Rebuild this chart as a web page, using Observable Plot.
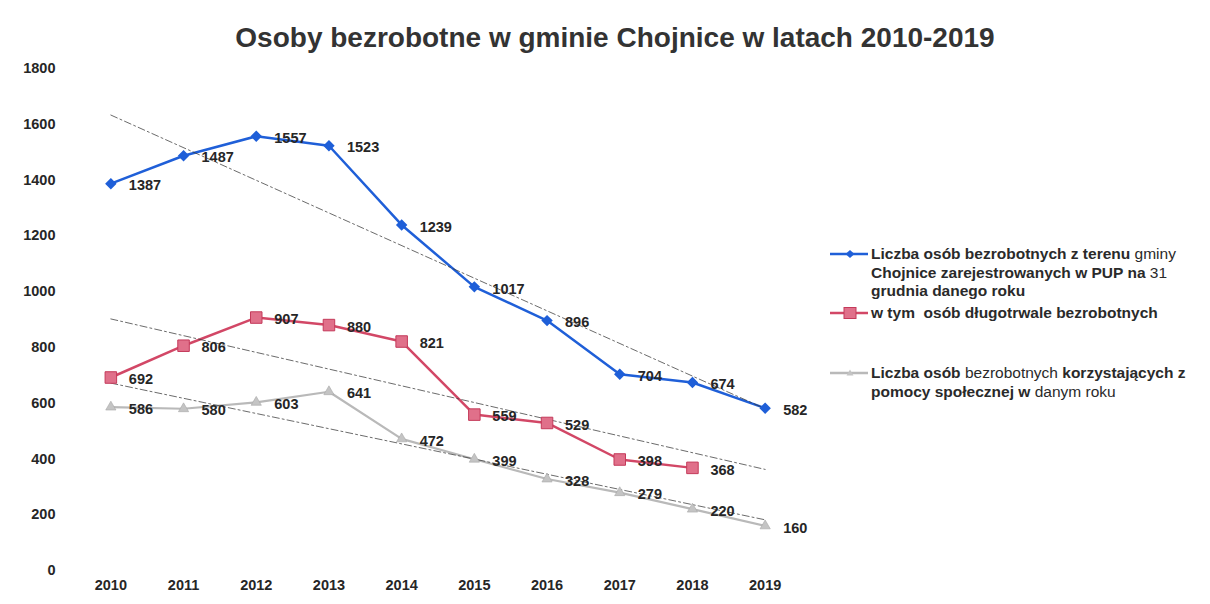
<!DOCTYPE html>
<html>
<head>
<meta charset="utf-8">
<script src="https://cdn.jsdelivr.net/npm/d3@7"></script>
<script src="https://cdn.jsdelivr.net/npm/@observablehq/plot@0.6"></script>
<style>
  body { margin:0; background:#fff; font-family:"Liberation Sans", Arial, sans-serif; width:1210px; height:604px; overflow:hidden; position:relative; }
  #title { position:absolute; left:0; top:22px; width:1230px; text-align:center; font-size:28px; line-height:32px; font-weight:bold; color:#333; }
  #chart { position:absolute; left:0; top:60px; }
  #legend { position:absolute; left:830px; top:245px; font-size:15.5px; line-height:18.5px; color:#2a2a2a; white-space:nowrap; }
  .row { position:relative; padding-left:41px; }
  .row svg { position:absolute; left:0; top:3px; }
  b { font-weight:bold; }
  .n { font-weight:normal; }
</style>
</head>
<body>
<div id="title">Osoby bezrobotne w gminie Chojnice w latach 2010-2019</div>
<div id="chart"></div>
<div id="legend"></div>
<script>
const years = [2010, 2011, 2012, 2013, 2014, 2015, 2016, 2017, 2018, 2019];
const registered = [1387, 1487, 1557, 1523, 1239, 1017, 896, 704, 674, 582];
const longTerm = [692, 806, 907, 880, 821, 559, 529, 398, 368, null];
const welfare = [586, 580, 603, 641, 472, 399, 328, 279, 220, 160];
const yTicks = [0, 200, 400, 600, 800, 1000, 1200, 1400, 1600, 1800];
const seriesNames = [
  "Liczba osób bezrobotnych z terenu gminy Chojnice zarejestrowanych w PUP na 31 grudnia danego roku",
  "w tym  osób długotrwale bezrobotnych",
  "Liczba osób bezrobotnych korzystających z pomocy społecznej w danym roku"
];
const colors = ["#1f5fd8", "#d24766", "#b9b9b9"];

function toRows(vals) {
  return years.map((x, i) => ({x, y: vals[i]})).filter(d => d.y != null);
}
// least-squares linear trend over the defined points, drawn across all years
function trend(vals) {
  const pts = toRows(vals);
  const mx = d3.mean(pts, d => d.x), my = d3.mean(pts, d => d.y);
  const sxy = d3.sum(pts, d => (d.x - mx) * (d.y - my));
  const sxx = d3.sum(pts, d => (d.x - mx) ** 2);
  const b = sxy / sxx, a = my - b * mx;
  return [years[0], years[years.length - 1]].map(x => ({x, y: a + b * x}));
}

const reg = toRows(registered), lt = toRows(longTerm), wf = toRows(welfare);
const trendStyle = {x: "x", y: "y", stroke: "#3a3a3a", strokeWidth: 1, strokeDasharray: "7 3 2 3", strokeOpacity: 0.75};
const labelStyle = {x: "x", y: "y", text: d => String(d.y), dx: 18, dy: 2, textAnchor: "start", fontSize: 14.5, fontWeight: "bold", fill: "#262626"};

const chart = Plot.plot({
  width: 820,
  height: 544,
  marginLeft: 74,
  marginRight: 19,
  marginTop: 8,
  marginBottom: 34,
  style: {fontFamily: "'Liberation Sans', Arial, sans-serif", fontSize: "14.5px", fontWeight: "bold", color: "#262626", background: "transparent"},
  x: {domain: [2009.5, 2019.5], ticks: years, tickFormat: d3.format("d"), tickSize: 0, tickPadding: 9, label: null, line: false},
  y: {domain: [0, 1800], ticks: yTicks, tickFormat: d3.format("d"), tickSize: 0, tickPadding: 19, label: null},
  marks: [
    Plot.line(wf, {x: "x", y: "y", stroke: colors[2], strokeWidth: 2.2}),
    Plot.line(lt, {x: "x", y: "y", stroke: colors[1], strokeWidth: 2.5}),
    Plot.line(reg, {x: "x", y: "y", stroke: colors[0], strokeWidth: 2.5}),
    Plot.line(trend(registered), trendStyle),
    Plot.line(trend(longTerm), trendStyle),
    Plot.line(trend(welfare), trendStyle),
    Plot.dot(wf, {x: "x", y: "y", symbol: "triangle", r: 3.8, fill: "#c4c4c4", stroke: "#a8a8a8", strokeWidth: 0.6}),
    Plot.dot(lt, {x: "x", y: "y", symbol: "square", r: 6.5, fill: "#e0708a", stroke: "#c43a5a", strokeWidth: 1}),
    Plot.dot(reg, {x: "x", y: "y", symbol: "diamond2", r: 4.2, fill: colors[0], stroke: colors[0]}),
    Plot.text(reg, labelStyle),
    Plot.text(lt, labelStyle),
    Plot.text(wf, labelStyle)
  ]
});
document.getElementById("chart").appendChild(chart);

// legend
const legendHtml = [
  '<b>Liczba osób bezrobotnych z terenu</b> <span class="n">gminy</span><br><b>Chojnice zarejestrowanych w PUP na</b> <span class="n">31</span><br><b>grudnia danego roku</b>',
  '<b>w tym&nbsp; osób długotrwale bezrobotnych</b>',
  '<b>Liczba osób</b> <span class="n">bezrobotnych</span> <b>korzystających z</b><br><b>pomocy społecznej w</b> <span class="n">danym roku</span>'
];
const symbols = [
  c => `<path d="M20,2 L24.5,6 L20,10 L15.5,6 Z" fill="${c}"/>`,
  c => `<rect x="14" y="0.5" width="12" height="11" fill="#e0708a" stroke="#c43a5a"/>`,
  c => `<path d="M20,2.5 L23.5,8.5 L16.5,8.5 Z" fill="#c4c4c4"/>`
];
const legend = document.getElementById("legend");
const gaps = [0, 3, 42];
seriesNames.forEach((name, i) => {
  const row = document.createElement("div");
  row.className = "row";
  row.style.marginTop = gaps[i] + "px";
  row.title = name;
  row.innerHTML = `<svg width="40" height="12"><line x1="0" x2="38" y1="6" y2="6" stroke="${colors[i]}" stroke-width="2.5"/>${symbols[i](colors[i])}</svg>` + legendHtml[i];
  legend.appendChild(row);
});
</script>
</body>
</html>
